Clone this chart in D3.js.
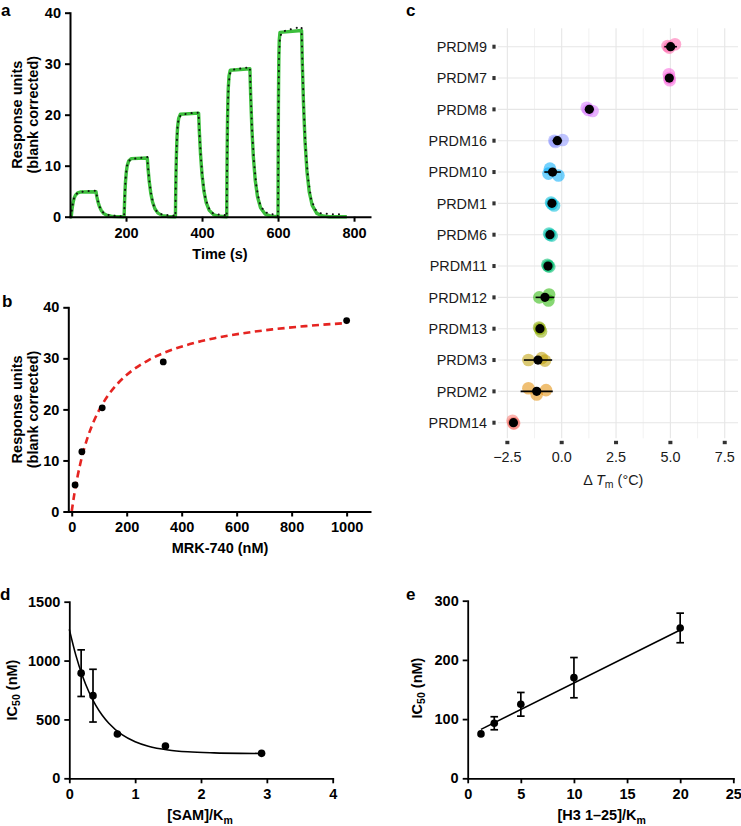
<!DOCTYPE html>
<html><head><meta charset="utf-8">
<script src="https://cdn.jsdelivr.net/npm/d3@7"></script>
<style>body{margin:0;background:#fff}svg{display:block}</style>
</head><body><svg id="fig" width="741" height="826"></svg>
<script>
// ---------- Panel a: SPR sensorgram ----------
const aTimeTicks = [200, 400, 600, 800];
const aRUTicks = [0, 10, 20, 30, 40];
const aFitTime = [53,56,57.4,58.8,61,63.8,67.1,72.7,81.6,121,123,126,130,135,141,149,161,176,
  195,196,197,198.6,200.6,203,207,213.4,256,258,261,265,270,276,284,296,311,
  330,330.7,331.4,332.6,334,335.7,338.6,343.1,391,393,396,400,405,411,419,431,446,
  465,465.5,466,466.8,467.8,469,471,474.2,526,528,531,535,540,546,554,566,581,
  600,600.3,600.6,601,601.6,602.2,603.3,605.1,662,664,667,671,676,682,690,702,717,735,781];
const aFitRU = [0,0,1.08,1.93,2.91,3.69,4.24,4.66,4.85,4.9,4.01,2.97,1.99,1.21,0.66,0.30,0.09,0.02,
  0,2.54,4.52,6.82,8.66,9.95,10.93,11.39,11.5,9.42,6.98,4.68,2.84,1.55,0.70,0.21,0.05,
  0,4.49,7.98,12.04,15.29,17.56,19.29,20.10,20.3,16.63,12.32,8.26,5.01,2.74,1.24,0.37,0.08,
  0,6.41,11.40,17.20,21.84,25.09,27.55,28.71,29.0,23.75,17.60,11.80,7.16,3.92,1.77,0.52,0.12,
  0,8.07,14.34,21.64,27.48,31.57,34.68,36.14,36.5,29.89,22.16,14.86,9.02,4.93,2.23,0.66,0.15,0,0];
const aRawTime = [55,58,61,64,68,75,90,105,121,124,128,133,140,150,165,180,193,
  195,197,199,202,206,215,235,256,258,262,267,273,281,292,310,328,
  330,331,333,335,338,345,370,391,393,397,402,408,416,428,445,463,
  465,466,467.5,469.5,473,480,505,526,528,532,537,543,551,563,580,598,
  600,601,602.5,605,612,640,662,664,668,673,679,687,698,712,740,770];
const aRawRU = [0,1.5,3.0,3.9,4.4,4.75,4.95,5.05,5.1,3.8,2.6,1.5,0.8,0.4,0.2,0.1,0.1,
  0,4.5,7.5,9.8,10.9,11.3,11.5,11.7,9.6,6.6,4.0,2.2,1.0,0.5,0.3,0.2,
  0,7,13,17,19.2,20.0,20.3,20.4,16.8,11.5,7.2,4.0,1.9,0.7,0.4,0.3,
  0,11,20,25.5,28.0,28.8,29.1,29.3,24,16.5,10.5,6.0,2.8,1.0,0.5,0.4,
  0,20,31,35.3,36.3,36.9,37.2,30.5,20.5,13,7.5,3.5,1.4,0.7,0.5,0.5];

// ---------- Panel b: steady-state binding ----------
const bConc = [12.3, 37, 111, 333, 1000];
const bRU = [5.2, 11.7, 20.3, 29.3, 37.4];
const bFitConc = [0,5,10,20,30,45,60,80,100,130,170,220,280,350,430,520,620,730,850,1000];
const bFitRU = [0,1.85,3.55,6.53,9.07,12.24,14.84,17.64,19.90,22.57,25.22,27.62,29.67,31.38,32.79,33.95,34.89,35.67,36.31,36.92];
const bXTicks = [0, 200, 400, 600, 800, 1000];
const bYTicks = [0, 10, 20, 30, 40];

// ---------- Panel c: DSF ----------
const cProteins = ["PRDM9","PRDM7","PRDM8","PRDM16","PRDM10","PRDM1","PRDM6","PRDM11","PRDM12","PRDM13","PRDM3","PRDM2","PRDM14"];
const cMean = [5.01, 4.95, 1.27, -0.2, -0.42, -0.45, -0.54, -0.63, -0.77, -1.0, -1.09, -1.15, -2.22];
const cErr = [0.29, 0.04, 0.2, 0.22, 0.38, 0.05, 0.04, 0.04, 0.43, 0.05, 0.65, 0.74, 0.04];
const cReps = [[4.87,4.95,5.21],[4.93,4.95,4.97],[1.15,1.23,1.42],[-0.34,-0.29,0.04],[-0.61,-0.54,-0.15],
  [-0.49,-0.45,-0.35],[-0.58,-0.54,-0.46],[-0.66,-0.63,-0.57],[-1.03,-0.61,-0.58],[-1.04,-1.0,-0.95],
  [-1.53,-0.92,-0.77],[-1.53,-1.15,-0.72],[-2.26,-2.22,-2.19]];
const cJitter = [[-0.02,0.03,-0.08],[-0.12,0,0.07],[-0.05,0.02,0.05],[0,0.04,-0.02],[0.05,-0.11,0.11],
  [-0.03,0.02,0.07],[-0.04,0,0.03],[-0.04,0,0.02],[0,0.1,-0.09],[-0.04,0,0.09],
  [0,-0.06,0.02],[-0.1,0.1,-0.04],[-0.06,0.02,0.02]];
const cColors = ["#FF65AC","#F962DD","#D575FE","#8B93FF","#00ACFC","#00BBDA","#00C1AB","#00BE70","#24B700","#8CAB00","#BE9C00","#E18A00","#F8766D"];
const cTicks = [-2.5, 0, 2.5, 5, 7.5];
const cMinor = [-1.25, 1.25, 3.75, 6.25];

// ---------- Panel d: IC50 vs SAM ----------
const dRatio = [0.18, 0.36, 0.73, 1.46, 2.92];
const dIC50 = [893, 702, 376, 274, 212];
const dErr = [198, 224, 15, 12, 8];
const dFitX = [0,0.1,0.2,0.3,0.4,0.5,0.6,0.8,1.0,1.2,1.5,1.8,2.2,2.6,2.92];
const dFitY = [1265,1044,869,731,622,536,468,371,311,273,241,225,216,212,211];
const dXTicks = [0,1,2,3,4];
const dYTicks = [0,500,1000,1500];

// ---------- Panel e: IC50 vs H3 peptide ----------
const eRatio = [1.25, 2.5, 5, 10, 20];
const eIC50 = [75, 93, 125, 170, 254];
const eErr = [4, 11, 20, 34, 25];
const eFitX = [1.25, 20];
const eFitY = [82.7, 250.5];
const eXTicks = [0,5,10,15,20,25];
const eYTicks = [0,100,200,300];

const FONT = '"Liberation Sans", Arial, Helvetica, sans-serif';
const plain = d => String(d);
const svg = d3.select("#fig");
svg.append("rect").attr("width",741).attr("height",826).attr("fill","#fff");

function styleAxis(g, w){
  g.attr("font-family", FONT).attr("font-size", 14.5).attr("font-weight","bold");
  g.select(".domain").attr("stroke","#000").attr("stroke-width",w).attr("stroke-linecap","square");
  g.selectAll(".tick line").attr("stroke","#000").attr("stroke-width",w);
  g.selectAll(".tick text").attr("fill","#000");
}
function label(x,y,txt,opts={}){
  const t = svg.append("text").attr("x",x).attr("y",y).attr("font-family",FONT)
    .attr("font-size",opts.size||14.5).attr("font-weight",opts.weight||"bold")
    .attr("text-anchor",opts.anchor||"middle").attr("fill",opts.fill||"#000").text(txt);
  if(opts.rotate) t.attr("x",null).attr("y",null).attr("transform",`translate(${x},${y}) rotate(-90)`);
  return t;
}
function panelLetter(x,y,l){ label(x,y,l,{size:17,anchor:"start"}); }

// ===== Panel a =====
{
  const x = d3.scaleLinear().domain([52.6, 842]).range([70, 370]);
  const y = d3.scaleLinear().domain([0, 40]).range([216.7, 12.7]);
  const fit = d3.line().x(i=>x(aFitTime[i])).y(i=>y(aFitRU[i]));
  svg.append("path").attr("d", fit(d3.range(aFitTime.length))).attr("fill","none")
    .attr("stroke","#3cbf3c").attr("stroke-width",3.4).attr("stroke-linejoin","round");
  const raw = d3.line().x(i=>x(aRawTime[i])).y(i=>y(aRawRU[i]));
  svg.append("path").attr("d", raw(d3.range(aRawTime.length))).attr("fill","none")
    .attr("stroke","#111").attr("stroke-width",2.0).attr("stroke-linecap","round")
    .attr("stroke-dasharray","0.1 6");
  styleAxis(svg.append("g").attr("transform","translate(0,216.7)")
    .call(d3.axisBottom(x).tickValues(aTimeTicks).tickFormat(plain).tickSize(5).tickPadding(6).tickSizeOuter(0)), 2);
  styleAxis(svg.append("g").attr("transform","translate(70,0)")
    .call(d3.axisLeft(y).tickValues(aRUTicks).tickFormat(plain).tickSize(5).tickPadding(4).tickSizeOuter(0)), 2);
  label(22,114.7,"Response units",{rotate:true});
  label(38,114.7,"(blank corrected)",{rotate:true});
  label(220,259,"Time (s)");
  panelLetter(1,16,"a");
}

// ===== Panel b =====
{
  const x = d3.scaleLinear().domain([-12.4, 1085]).range([68.3, 370]);
  const y = d3.scaleLinear().domain([0, 40]).range([511.5, 307.3]);
  const fit = d3.line().x(i=>x(bFitConc[i])).y(i=>y(bFitRU[i])).curve(d3.curveMonotoneX);
  svg.append("path").attr("d", fit(d3.range(bFitConc.length))).attr("fill","none")
    .attr("stroke","#e52421").attr("stroke-width",2.6).attr("stroke-dasharray","7 4.5");
  svg.append("g").selectAll("circle").data(d3.range(bConc.length)).join("circle")
    .attr("cx",i=>x(bConc[i])).attr("cy",i=>y(bRU[i])).attr("r",3.4).attr("fill","#000");
  styleAxis(svg.append("g").attr("transform","translate(0,511.5)")
    .call(d3.axisBottom(x).tickValues(bXTicks).tickFormat(plain).tickSize(5).tickPadding(5).tickSizeOuter(0)), 2);
  styleAxis(svg.append("g").attr("transform","translate(68.3,0)")
    .call(d3.axisLeft(y).tickValues(bYTicks).tickFormat(plain).tickSize(5).tickPadding(4).tickSizeOuter(0)), 2);
  label(22,409.4,"Response units",{rotate:true});
  label(38,409.4,"(blank corrected)",{rotate:true});
  label(220,553,"MRK-740 (nM)");
  panelLetter(2,307,"b");
}

// ===== Panel c =====
{
  const x = d3.scaleLinear().domain([-2.93, 8.11]).range([498, 738]);
  const y = d3.scalePoint().domain(cProteins).range([46.7, 422.7]);
  const step = y.step();
  const top = 28.3, bottom = 438.3;
  const grid = svg.append("g");
  grid.selectAll("line.minor").data(cMinor).join("line").attr("class","minor")
    .attr("x1",d=>x(d)).attr("x2",d=>x(d)).attr("y1",top).attr("y2",bottom)
    .attr("stroke","#ececec").attr("stroke-width",0.7);
  grid.selectAll("line.vmaj").data(cTicks).join("line").attr("class","vmaj")
    .attr("x1",d=>x(d)).attr("x2",d=>x(d)).attr("y1",top).attr("y2",bottom)
    .attr("stroke","#e6e6e6").attr("stroke-width",1.1);
  grid.selectAll("line.hmaj").data(cProteins).join("line").attr("class","hmaj")
    .attr("x1",498).attr("x2",738).attr("y1",d=>y(d)).attr("y2",d=>y(d))
    .attr("stroke","#e6e6e6").attr("stroke-width",1.1);
  svg.append("g").selectAll("rect").data(cProteins).join("rect")
    .attr("x",492.4).attr("y",d=>y(d)-2).attr("width",3.2).attr("height",4).attr("fill","#333");
  svg.append("g").selectAll("rect").data(cTicks).join("rect")
    .attr("x",d=>x(d)-2).attr("y",440.8).attr("width",4).attr("height",3.4).attr("fill","#333");
  svg.append("g").selectAll("text").data(cProteins).join("text")
    .attr("x",487).attr("y",d=>y(d)).attr("dy","0.36em").attr("text-anchor","end")
    .attr("font-family",FONT).attr("font-size",14.4).attr("fill","#1a1a1a").text(d=>d);
  svg.append("g").selectAll("text").data(cTicks).join("text")
    .attr("x",d=>x(d)).attr("y",461.8).attr("text-anchor","middle")
    .attr("font-family",FONT).attr("font-size",14.4).attr("fill","#1a1a1a").text(d=>d3.format(".1f")(d));
  const t = svg.append("text").attr("x",613.3).attr("y",484.5).attr("text-anchor","middle")
    .attr("font-family",FONT).attr("font-size",14.4).attr("fill","#1a1a1a");
  t.append("tspan").text("\u0394 ");
  t.append("tspan").attr("font-style","italic").text("T");
  t.append("tspan").attr("font-size",10.5).attr("dy",3.5).text("m");
  t.append("tspan").attr("dy",-3.5).text(" (\u00B0C)");
  cProteins.forEach((p,i)=>{
    const g = svg.append("g");
    g.selectAll("circle").data(cReps[i]).join("circle")
      .attr("cx",d=>x(d)).attr("cy",(d,j)=>y(p)+cJitter[i][j]*step)
      .attr("r",6.3).attr("fill",cColors[i]).attr("fill-opacity",0.55);
    g.append("line").attr("x1",x(cMean[i]-cErr[i])).attr("x2",x(cMean[i]+cErr[i]))
      .attr("y1",y(p)).attr("y2",y(p)).attr("stroke","#000").attr("stroke-width",1.6);
    g.append("circle").attr("cx",x(cMean[i])).attr("cy",y(p)).attr("r",4.6).attr("fill","#000");
  });
  panelLetter(406,16,"c");
}

function errorBars(xs, ys, es, x, y, r){
  const g = svg.append("g").attr("stroke","#000").attr("stroke-width",1.7);
  xs.forEach((xv,i)=>{
    if (Math.abs(y(ys[i]+es[i]) - y(ys[i])) <= r + 0.5) return;
    const cx = x(xv), y1 = y(ys[i]-es[i]), y2 = y(ys[i]+es[i]);
    g.append("line").attr("x1",cx).attr("x2",cx).attr("y1",y1).attr("y2",y2);
    g.append("line").attr("x1",cx-3.8).attr("x2",cx+3.8).attr("y1",y1).attr("y2",y1);
    g.append("line").attr("x1",cx-3.8).attr("x2",cx+3.8).attr("y1",y2).attr("y2",y2);
  });
}

// ===== Panel d =====
{
  const x = d3.scaleLinear().domain([0, 4]).range([69.3, 332.7]);
  const y = d3.scaleLinear().domain([0, 1500]).range([778.3, 601.7]);
  const fit = d3.line().x(i=>x(dFitX[i])).y(i=>y(dFitY[i])).curve(d3.curveMonotoneX);
  svg.append("path").attr("d", fit(d3.range(dFitX.length))).attr("fill","none")
    .attr("stroke","#000").attr("stroke-width",1.6);
  errorBars(dRatio, dIC50, dErr, x, y, 3.8);
  svg.append("g").selectAll("circle").data(d3.range(dRatio.length)).join("circle")
    .attr("cx",i=>x(dRatio[i])).attr("cy",i=>y(dIC50[i])).attr("r",3.8).attr("fill","#000");
  styleAxis(svg.append("g").attr("transform","translate(0,778.3)")
    .call(d3.axisBottom(x).tickValues(dXTicks).tickFormat(plain).tickSize(5).tickPadding(5).tickSizeOuter(0)), 1.8);
  styleAxis(svg.append("g").attr("transform","translate(69.3,0)")
    .call(d3.axisLeft(y).tickValues(dYTicks).tickFormat(plain).tickSize(5).tickPadding(4).tickSizeOuter(0)), 1.8);
  const yl = label(16.5,690,"",{rotate:true});
  yl.append("tspan").text("IC");
  yl.append("tspan").attr("font-size",10.5).attr("dy",3.5).text("50");
  yl.append("tspan").attr("dy",-3.5).text(" (nM)");
  const xl = label(200,820,"");
  xl.append("tspan").text("[SAM]/K");
  xl.append("tspan").attr("font-size",10.5).attr("dy",3.5).text("m");
  panelLetter(0,600,"d");
}

// ===== Panel e =====
{
  const x = d3.scaleLinear().domain([0, 25]).range([467.7, 733.3]);
  const y = d3.scaleLinear().domain([0, 300]).range([778.3, 600.7]);
  const fit = d3.line().x(i=>x(eFitX[i])).y(i=>y(eFitY[i]));
  svg.append("path").attr("d", fit(d3.range(eFitX.length))).attr("fill","none")
    .attr("stroke","#000").attr("stroke-width",1.6);
  errorBars(eRatio, eIC50, eErr, x, y, 3.8);
  svg.append("g").selectAll("circle").data(d3.range(eRatio.length)).join("circle")
    .attr("cx",i=>x(eRatio[i])).attr("cy",i=>y(eIC50[i])).attr("r",3.8).attr("fill","#000");
  styleAxis(svg.append("g").attr("transform","translate(0,778.3)")
    .call(d3.axisBottom(x).tickValues(eXTicks).tickFormat(plain).tickSize(5).tickPadding(5).tickSizeOuter(0)), 1.8);
  styleAxis(svg.append("g").attr("transform","translate(467.7,0)")
    .call(d3.axisLeft(y).tickValues(eYTicks).tickFormat(plain).tickSize(5).tickPadding(4).tickSizeOuter(0)), 1.8);
  const yl = label(421.5,688,"",{rotate:true});
  yl.append("tspan").text("IC");
  yl.append("tspan").attr("font-size",10.5).attr("dy",3.5).text("50");
  yl.append("tspan").attr("dy",-3.5).text(" (nM)");
  const xl = label(601.7,820,"");
  xl.append("tspan").text("[H3 1\u201325]/K");
  xl.append("tspan").attr("font-size",10.5).attr("dy",3.5).text("m");
  panelLetter(406,600,"e");
}
</script></body></html>
